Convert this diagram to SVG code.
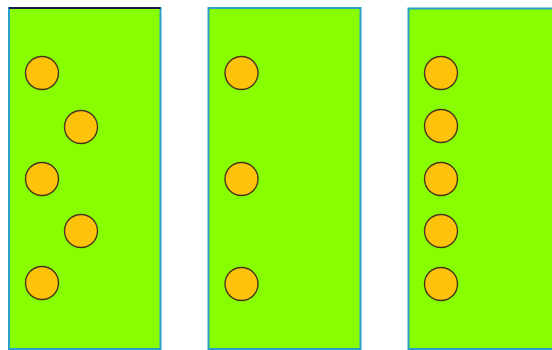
<svg xmlns="http://www.w3.org/2000/svg" width="552" height="350" viewBox="0 0 552 350">
<style>
.panel{fill:#88ff00;stroke:#2a9fc8;stroke-width:2}
.dot{fill:#ffc20a;stroke:#4a3418;stroke-width:1.4}
</style>
<rect width="552" height="350" fill="#ffffff"/>
<g id="panel1">
<rect class="panel" x="9" y="8" width="151.5" height="341"/>
<line x1="9" y1="8" x2="160.5" y2="8" stroke="#1a1a50" stroke-width="2"/>
<circle class="dot" cx="42" cy="73" r="16.5"/>
<circle class="dot" cx="81" cy="127" r="16.5"/>
<circle class="dot" cx="42" cy="179" r="16.5"/>
<circle class="dot" cx="81" cy="231" r="16.5"/>
<circle class="dot" cx="42" cy="283" r="16.5"/>
</g>
<g id="panel2">
<rect class="panel" x="208.5" y="8" width="152" height="341"/>
<circle class="dot" cx="241.5" cy="73" r="16.5"/>
<circle class="dot" cx="241.5" cy="179" r="16.5"/>
<circle class="dot" cx="241.5" cy="284" r="16.5"/>
</g>
<g id="panel3">
<rect class="panel" x="408.5" y="8.5" width="152" height="340.5"/>
<circle class="dot" cx="441" cy="73" r="16.5"/>
<circle class="dot" cx="441" cy="126" r="16.5"/>
<circle class="dot" cx="441" cy="179" r="16.5"/>
<circle class="dot" cx="441" cy="231" r="16.5"/>
<circle class="dot" cx="441" cy="284" r="16.5"/>
</g>
<g id="connectors"></g>
</svg>
